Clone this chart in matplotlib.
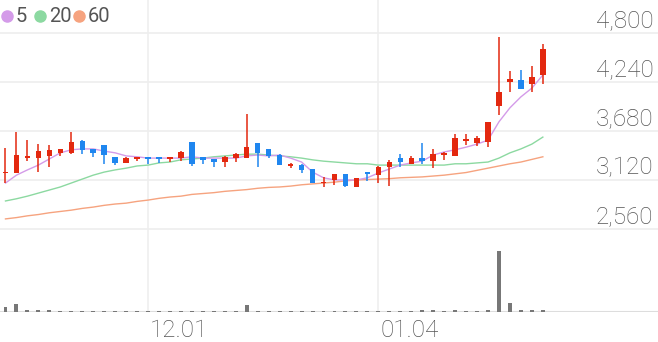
import matplotlib.pyplot as plt
from matplotlib.lines import Line2D
from matplotlib.transforms import blended_transform_factory, offset_copy

# daily candles, oldest first
opens = [3195, 3200, 3370, 3370, 3395, 3430, 3430, 3565, 3475, 3520,
         3385, 3315, 3360, 3385, 3385, 3360, 3370, 3555, 3385, 3360,
         3325, 3370, 3370, 3545, 3475, 3405, 3280, 3290, 3245, 3085,
         3120, 3190, 3040, 3210, 3175, 3270, 3370, 3305, 3370, 3335,
         3405, 3395, 3565, 3545, 3555, 3965, 4240, 4265, 4215, 4320]
highs = [3485, 3670, 3575, 3530, 3520, 3475, 3670, 3575, 3475, 3520,
         3385, 3385, 3385, 3385, 3385, 3385, 3450, 3555, 3385, 3360,
         3395, 3430, 3875, 3545, 3475, 3415, 3315, 3305, 3245, 3155,
         3190, 3190, 3145, 3210, 3280, 3350, 3415, 3395, 3545, 3475,
         3440, 3645, 3645, 3625, 3785, 4755, 4365, 4375, 4425, 4675]
lows = [3085, 3195, 3335, 3210, 3270, 3395, 3415, 3415, 3385, 3305,
        3290, 3315, 3335, 3305, 3315, 3325, 3335, 3280, 3305, 3270,
        3270, 3325, 3370, 3270, 3370, 3290, 3255, 3200, 3085, 3040,
        3065, 3040, 3040, 3110, 3085, 3050, 3270, 3305, 3305, 3255,
        3350, 3395, 3520, 3510, 3495, 3865, 4125, 4160, 4125, 4215]
closes = [3200, 3405, 3395, 3450, 3465, 3475, 3555, 3465, 3430, 3405,
          3315, 3370, 3385, 3360, 3360, 3385, 3440, 3305, 3350, 3325,
          3385, 3415, 3495, 3430, 3395, 3290, 3305, 3235, 3085, 3095,
          3190, 3050, 3145, 3190, 3270, 3325, 3325, 3370, 3335, 3415,
          3430, 3600, 3590, 3600, 3785, 4125, 4275, 4160, 4295, 4615]
volumes = [500, 800, 230, 230, 230, 60, 150, 150, 150, 150,
           60, 60, 60, 60, 60, 60, 100, 150, 100, 100,
           100, 60, 700, 150, 100, 60, 100, 100, 150, 60,
           60, 60, 60, 60, 60, 60, 60, 100, 200, 200,
           100, 200, 100, 100, 250, 6100, 900, 200, 200, 200]

ma5 = [3085, 3175, 3235, 3290, 3360, 3430, 3465, 3475, 3475, 3450,
       3430, 3395, 3385, 3370, 3370, 3370, 3370, 3385, 3370, 3370,
       3370, 3370, 3395, 3405, 3395, 3405, 3370, 3325, 3210, 3145,
       3120, 3120, 3120, 3145, 3200, 3245, 3290, 3315, 3335, 3405,
       3440, 3465, 3495, 3530, 3575, 3785, 3945, 4070, 4170, 4320]
ma20 = [2880, 2905, 2935, 2970, 3005, 3040, 3085, 3130, 3175, 3210,
        3235, 3255, 3280, 3290, 3315, 3325, 3350, 3360, 3370, 3385,
        3395, 3405, 3415, 3415, 3405, 3395, 3385, 3370, 3350, 3335,
        3325, 3315, 3305, 3305, 3290, 3290, 3290, 3290, 3290, 3290,
        3290, 3305, 3305, 3315, 3325, 3370, 3430, 3475, 3530, 3610]
ma60 = [2675, 2690, 2710, 2725, 2745, 2760, 2775, 2795, 2810, 2830,
        2845, 2855, 2875, 2890, 2910, 2925, 2935, 2955, 2965, 2975,
        2990, 3000, 3010, 3025, 3035, 3040, 3050, 3065, 3075, 3085,
        3095, 3110, 3120, 3125, 3130, 3135, 3145, 3150, 3155, 3165,
        3175, 3190, 3205, 3230, 3255, 3280, 3305, 3325, 3355, 3385]

price_ticks = [2560, 3120, 3680, 4240, 4800]
date_pos = [13, 34]
date_labels = ['12.01', '01.04']

ma_names = ['5', '20', '60']
ma_colors = ['#d49be9', '#8cd9a1', '#f6a37f']
UP = '#e3280f'
DOWN = '#1f86ef'
GRID = '#eeeeee'
TEXT = '#555555'
FONT = 'Roboto'

x = list(range(len(opens)))

fig = plt.figure(figsize=(6.58, 3.42), dpi=100)
ax = fig.add_axes([0, 1 - 235 / 342, 1, 235 / 342])
axv = fig.add_axes([0, 1 - 312 / 342, 1, 77 / 342])

for a in (ax, axv):
    a.set_xlim(-0.5, 59.5)
    for s in a.spines.values():
        s.set_visible(False)
    for p in date_pos:
        a.axvline(p, color=GRID, lw=1.1, zorder=0)

ax.set_ylim(2491, 5177)
ax.set_xticks([])
ax.set_yticks([])
ylab = offset_copy(blended_transform_factory(ax.transAxes, ax.transData),
                   fig=fig, y=6, units='dots')
for v in price_ticks:
    ax.axhline(v, color=GRID, lw=1.2, zorder=0)
    ax.text(0.993, v, '{:,}'.format(v), transform=ylab, ha='right',
            va='baseline', fontsize=17.5, color=TEXT, family=FONT,
            weight='light')

# moving averages
for ma, c in zip([ma60, ma20, ma5], ma_colors[::-1]):
    ax.plot(x, ma, color=c, lw=1.0, zorder=2)

# candles
for i in x:
    o, h, l, c = opens[i], highs[i], lows[i], closes[i]
    col = UP if c >= o else DOWN
    ax.vlines(i, l, h, color=col, lw=1.1, zorder=3)
    ax.bar(i, max(abs(c - o), 12), bottom=min(o, c), width=0.5,
           color=col, zorder=3)

# volume
axv.set_ylim(0, 7700)
axv.bar(x, volumes, width=0.36, color='#777777', zorder=2)
axv.axhline(0, color='#dddddd', lw=1.5, zorder=1)
axv.set_yticks([])
axv.set_xticks([])
xlab = offset_copy(blended_transform_factory(axv.transData, axv.transAxes),
                   fig=fig, x=2, y=-25, units='dots')
for p, s in zip(date_pos, date_labels):
    axv.text(p, 0, s, transform=xlab, ha='left', va='baseline',
             fontsize=17.5, color=TEXT, family=FONT, weight='light')

# legend
lx = [7, 40, 79]
for px, name, c in zip(lx, ma_names, ma_colors):
    fig.add_artist(Line2D([px / 658], [1 - 16 / 342], marker='o',
                          markersize=8, color=c, lw=0,
                          transform=fig.transFigure))
    fig.text((px + 9) / 658, 1 - 16 / 342, name, ha='left', va='center',
             fontsize=14.5, color=TEXT, family=FONT)

plt.savefig('out.png', dpi=100)
plt.close()
